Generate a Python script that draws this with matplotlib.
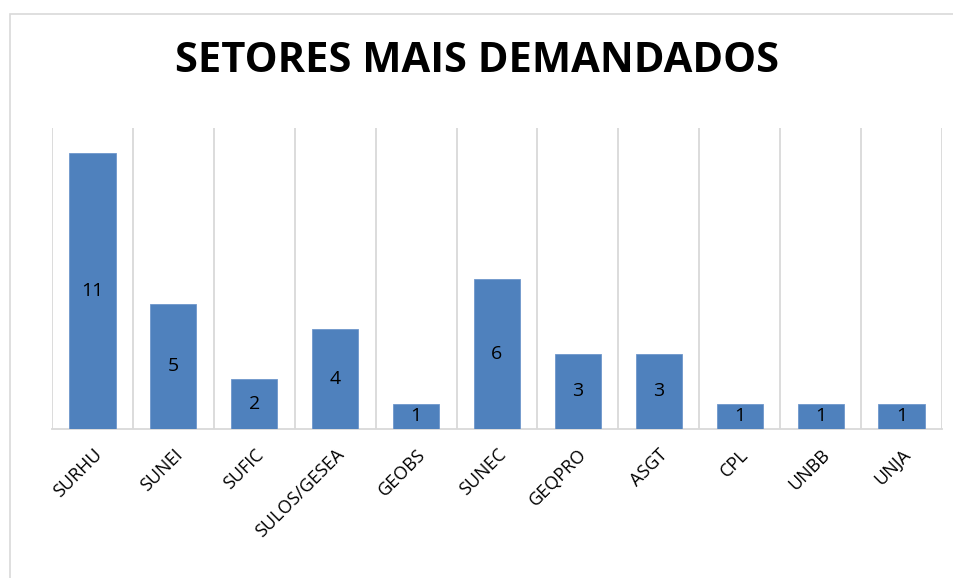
import matplotlib
matplotlib.use('Agg')
import matplotlib.pyplot as plt
from matplotlib.patches import Rectangle

setores = ["SURHU", "SUNEI", "SUFIC", "SULOS/GESEA", "GEOBS", "SUNEC",
           "GEQPRO", "ASGT", "CPL", "UNBB", "UNJA"]
demandas = [11, 5, 2, 4, 1, 6, 3, 3, 1, 1, 1]

plt.rcParams['font.family'] = ['Open Sans', 'DejaVu Sans']

fig = plt.figure(figsize=(9.54, 5.78), dpi=100)
# chart frame like Excel
fig.patches.append(Rectangle((10 / 954, -0.01), 1.0, 1 - 14 / 578 + 0.01,
                             transform=fig.transFigure, fill=False,
                             edgecolor='#d9d9d9', linewidth=1.2))

ax = fig.add_axes([52 / 954, 1 - 429 / 578, 890 / 954, 301 / 578])
x = range(len(setores))
bars = ax.bar(x, demandas, width=0.57, color='#4f81bd', edgecolor='#6f97cc', linewidth=0.6, zorder=3)

for b, v in zip(bars, demandas):
    ax.text(b.get_x() + b.get_width() / 2, v / 2, str(v), ha='center', va='center',
            fontsize=14, color='black', zorder=4)

ax.set_xlim(-0.5, len(setores) - 0.5)
ax.set_ylim(0, 12)
for i in range(len(setores) + 1):
    ax.axvline(i - 0.5, color='#d9d9d9', linewidth=1.3, zorder=1)

for s in ['top', 'right', 'left']:
    ax.spines[s].set_visible(False)
ax.spines['bottom'].set_color('#d9d9d9')
ax.spines['bottom'].set_linewidth(1.3)
ax.set_yticks([])
ax.set_xticks(list(x))
ax.set_xticklabels(setores, rotation=45, ha='right', rotation_mode='anchor', fontsize=13)
ax.tick_params(axis='x', length=0, pad=12)

fig.text(0.5, 1 - 62 / 578, "SETORES MAIS DEMANDADOS", ha='center', va='center',
         fontsize=30, fontweight='bold')

fig.savefig("out.png", dpi=100)
